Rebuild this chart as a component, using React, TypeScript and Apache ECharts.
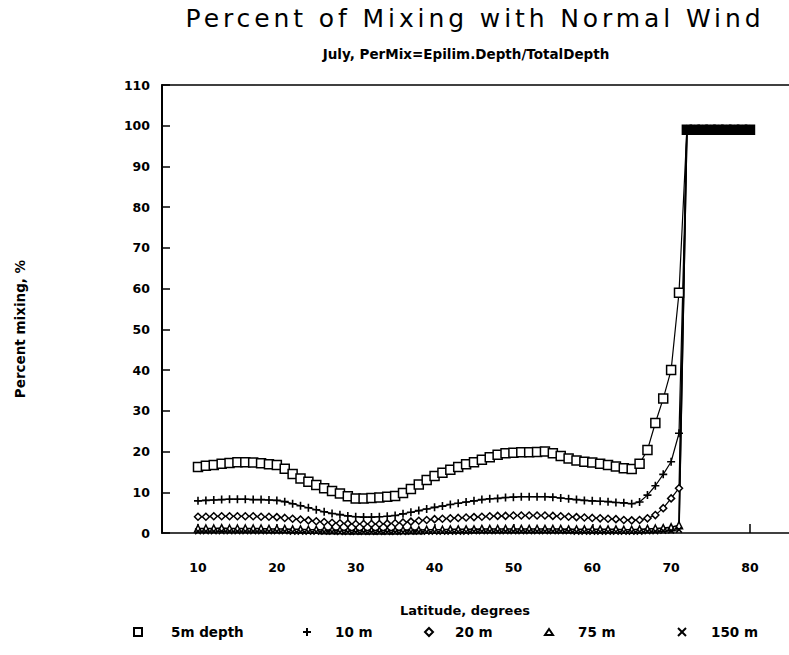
import React, { useEffect, useRef } from "react";
import * as echarts from "echarts";

const TITLE = "Percent of Mixing with Normal Wind";
const SUBTITLE = "July, PerMix=Epilim.Depth/TotalDepth";
const X_NAME = "Latitude, degrees";
const Y_NAME = "Percent mixing, %";

// Latitudes of the computed profiles (degrees)
const latitudes = [
  10, 11, 12, 13, 14, 15, 16, 17, 18, 19,
  20, 21, 22, 23, 24, 25, 26, 27, 28, 29,
  30, 31, 32, 33, 34, 35, 36, 37, 38, 39,
  40, 41, 42, 43, 44, 45, 46, 47, 48, 49,
  50, 51, 52, 53, 54, 55, 56, 57, 58, 59,
  60, 61, 62, 63, 64, 65, 66, 67, 68, 69,
  70, 71,
];

// Fully mixed latitudes (all depths at ~100 %)
const mixedLatitudes = [72, 73, 74, 75, 76, 77, 78, 79, 80];
const mixedValue = 99;

const mix5m = [
  16.2, 16.5, 16.7, 17.0, 17.2, 17.4, 17.4, 17.3, 17.1, 16.9,
  16.7, 15.8, 14.5, 13.4, 12.6, 11.8, 11.0, 10.3, 9.7, 9.0,
  8.5, 8.5, 8.6, 8.7, 8.9, 9.1, 9.8, 10.8, 11.9, 13.0,
  14.0, 14.8, 15.5, 16.2, 16.9, 17.4, 18.0, 18.6, 19.2, 19.6,
  19.7, 19.8, 19.8, 19.9, 20.0, 19.6, 18.9, 18.3, 17.8, 17.5,
  17.3, 17.0, 16.7, 16.3, 15.9, 15.7, 17.0, 20.4, 27.0, 33.0,
  40.0, 59.0,
];

const mix10m = [
  7.9, 8.0, 8.1, 8.2, 8.3, 8.3, 8.3, 8.2, 8.2, 8.1,
  8.0, 7.7, 7.2, 6.7, 6.2, 5.7, 5.2, 4.8, 4.5, 4.2,
  4.0, 3.9, 3.9, 4.0, 4.1, 4.3, 4.7, 5.1, 5.5, 5.9,
  6.3, 6.6, 7.0, 7.3, 7.6, 7.9, 8.2, 8.4, 8.5, 8.7,
  8.8, 8.9, 8.9, 8.9, 8.9, 8.8, 8.6, 8.4, 8.2, 8.0,
  7.9, 7.8, 7.7, 7.5, 7.4, 7.2, 7.6, 9.3, 11.6, 14.4,
  17.5, 24.5,
];

const mix20m = [
  4.0, 4.0, 4.1, 4.1, 4.1, 4.1, 4.1, 4.1, 4.0, 4.0,
  3.9, 3.7, 3.5, 3.3, 3.1, 2.9, 2.7, 2.5, 2.4, 2.3,
  2.2, 2.2, 2.2, 2.2, 2.3, 2.4, 2.6, 2.8, 3.0, 3.2,
  3.4, 3.5, 3.6, 3.7, 3.8, 3.9, 4.0, 4.1, 4.2, 4.2,
  4.3, 4.3, 4.3, 4.3, 4.3, 4.2, 4.1, 4.0, 3.9, 3.8,
  3.7, 3.6, 3.5, 3.4, 3.2, 3.1, 3.2, 3.6, 4.4, 6.1,
  8.5, 11.0,
];

const mix75m = [
  1.1, 1.1, 1.1, 1.2, 1.1, 1.1, 1.1, 1.1, 1.1, 1.0,
  1.0, 1.0, 0.9, 0.9, 0.8, 0.8, 0.7, 0.7, 0.7, 0.6,
  0.6, 0.6, 0.6, 0.6, 0.6, 0.6, 0.7, 0.7, 0.7, 0.8,
  0.8, 0.8, 0.9, 0.9, 0.9, 0.9, 1.0, 1.0, 1.0, 1.0,
  1.0, 1.0, 1.0, 1.0, 1.0, 1.0, 1.0, 0.9, 0.9, 0.9,
  0.9, 0.9, 0.9, 0.9, 0.8, 0.8, 0.9, 1.0, 1.1, 1.2,
  1.4, 1.9,
];

const mix150m = [
  0.4, 0.4, 0.4, 0.4, 0.4, 0.4, 0.4, 0.4, 0.4, 0.4,
  0.4, 0.4, 0.3, 0.3, 0.3, 0.3, 0.3, 0.3, 0.2, 0.2,
  0.2, 0.2, 0.2, 0.2, 0.2, 0.2, 0.2, 0.3, 0.3, 0.3,
  0.3, 0.3, 0.3, 0.3, 0.3, 0.4, 0.4, 0.4, 0.4, 0.4,
  0.4, 0.4, 0.4, 0.4, 0.4, 0.4, 0.4, 0.4, 0.3, 0.3,
  0.3, 0.3, 0.3, 0.3, 0.3, 0.3, 0.3, 0.4, 0.4, 0.5,
  0.6, 0.8,
];

const xTickValues = [10, 20, 30, 40, 50, 60, 70, 80];

const FONT = "DejaVu Sans";
const PLUS_PATH = "path://M4,0H6V4H10V6H6V10H4V6H0V4H4Z";

function buildData(values: number[]) {
  const profile: any[] = latitudes.map((lat, i) => [lat, values[i]]);
  const mixed = mixedLatitudes.map((lat) => ({
    value: [lat, mixedValue],
    itemStyle: { color: "#000" },
  }));
  return profile.concat(mixed);
}

const seriesDefs = [
  { name: "5m depth", values: mix5m, symbol: "rect", size: 9, fill: "#fff", rotate: 0, width: 1.2 },
  { name: "10 m", values: mix10m, symbol: PLUS_PATH, size: 8, fill: "#000", rotate: 0, width: 1.2 },
  { name: "20 m", values: mix20m, symbol: "diamond", size: 7, fill: "#fff", rotate: 0, width: 1.2 },
  { name: "75 m", values: mix75m, symbol: "triangle", size: 7, fill: "#fff", rotate: 0, width: 1.6 },
  { name: "150 m", values: mix150m, symbol: PLUS_PATH, size: 8, fill: "#000", rotate: 45, width: 1.6 },
];

function legendGraphics() {
  const cy = 632;
  const stroke = { stroke: "#000", lineWidth: 2 };
  const label = (x: number, text: string) => ({
    type: "text",
    x,
    y: cy,
    style: {
      text,
      fill: "#000",
      fontFamily: FONT,
      fontWeight: "bold",
      fontSize: 13.5,
      verticalAlign: "middle",
      align: "left",
    },
  });
  return [
    { type: "rect", shape: { x: 134, y: cy - 4, width: 8, height: 8 }, style: { fill: "#fff", ...stroke } },
    label(171, "5m depth"),
    { type: "line", shape: { x1: 303, y1: cy, x2: 311, y2: cy }, style: stroke },
    { type: "line", shape: { x1: 307, y1: cy - 4, x2: 307, y2: cy + 4 }, style: stroke },
    label(335, "10 m"),
    {
      type: "polygon",
      shape: { points: [[429, cy - 4], [433, cy], [429, cy + 4], [425, cy]] },
      style: { fill: "#fff", ...stroke },
    },
    label(455, "20 m"),
    {
      type: "polygon",
      shape: { points: [[549, cy - 3], [553, cy + 3], [545, cy + 3]] },
      style: { fill: "#fff", ...stroke },
    },
    label(578, "75 m"),
    { type: "line", shape: { x1: 678, y1: cy - 4, x2: 686, y2: cy + 4 }, style: stroke },
    { type: "line", shape: { x1: 678, y1: cy + 4, x2: 686, y2: cy - 4 }, style: stroke },
    label(711, "150 m"),
  ];
}

export default function App() {
  const ref = useRef<HTMLDivElement>(null);

  useEffect(() => {
    if (!ref.current) return;
    const el = ref.current;
    const chart = echarts.init(el, null, { renderer: "svg" });

    const option: any = {
      animation: false,
      backgroundColor: "#fff",
      title: [
        {
          text: TITLE,
          left: 475,
          top: 6,
          padding: 0,
          textAlign: "center",
          textStyle: { fontFamily: FONT, fontSize: 25, fontWeight: "normal", color: "#000" },
        },
        {
          text: SUBTITLE,
          left: 466,
          top: 47,
          padding: 0,
          textAlign: "center",
          textStyle: { fontFamily: FONT, fontSize: 13.5, fontWeight: "bold", color: "#000" },
        },
      ],
      grid: { left: 162, right: 0, top: 85, bottom: 122, containLabel: false },
      xAxis: [
        {
          type: "value",
          min: 5.435,
          max: 84.95,
          axisLine: { show: true, lineStyle: { color: "#000", width: 1.5 } },
          axisTick: {
            show: true,
            inside: true,
            length: 9,
            customValues: xTickValues,
            lineStyle: { color: "#000", width: 1.5 },
          },
          axisLabel: {
            show: true,
            customValues: xTickValues,
            margin: 28,
            color: "#000",
            fontFamily: FONT,
            fontSize: 12.5,
            fontWeight: "bold",
          },
          splitLine: { show: false },
        },
        {
          type: "value",
          position: "top",
          min: 5.435,
          max: 84.95,
          axisLine: { show: true, onZero: false, lineStyle: { color: "#000", width: 1.5 } },
          axisTick: { show: false },
          axisLabel: { show: false },
          splitLine: { show: false },
        },
      ],
      yAxis: {
        type: "value",
        min: 0,
        max: 110,
        interval: 10,
        axisLine: { show: true, lineStyle: { color: "#000", width: 2 } },
        axisTick: { show: true, inside: true, length: 8, lineStyle: { color: "#000", width: 1.5 } },
        axisLabel: {
          margin: 12,
          color: "#000",
          fontFamily: FONT,
          fontSize: 12.5,
          fontWeight: "bold",
        },
        splitLine: { show: false },
      },
      series: seriesDefs.map((s) => ({
        name: s.name,
        type: "line",
        xAxisIndex: 0,
        data: buildData(s.values),
        symbol: s.symbol,
        symbolSize: s.size,
        symbolRotate: s.rotate,
        showAllSymbol: true,
        lineStyle: { color: "#000", width: s.width },
        itemStyle: { color: s.fill, borderColor: "#000", borderWidth: s.fill === "#fff" ? 1.5 : 0 },
        clip: false,
      })),
      graphic: [
        {
          type: "text",
          x: 465,
          y: 610,
          style: {
            text: X_NAME,
            fill: "#000",
            fontFamily: FONT,
            fontWeight: "bold",
            fontSize: 13,
            align: "center",
            verticalAlign: "middle",
          },
        },
        {
          type: "text",
          x: 20,
          y: 329,
          rotation: Math.PI / 2,
          style: {
            text: Y_NAME,
            fill: "#000",
            fontFamily: FONT,
            fontWeight: "bold",
            fontSize: 13.5,
            align: "center",
            verticalAlign: "middle",
          },
        },
        ...legendGraphics(),
      ],
    };

    chart.setOption(option);

    // The title is set with wide letter spacing
    const spaceTitle = () => {
      el.querySelectorAll("svg text").forEach((t) => {
        if (t.textContent === TITLE) t.setAttribute("letter-spacing", "3.9");
      });
    };
    spaceTitle();
    chart.on("finished", spaceTitle);

    return () => {
      chart.dispose();
    };
  }, []);

  return (
    <div
      ref={ref}
      style={{ position: "fixed", left: 0, top: 0, width: 789, height: 655, background: "#fff" }}
    />
  );
}
